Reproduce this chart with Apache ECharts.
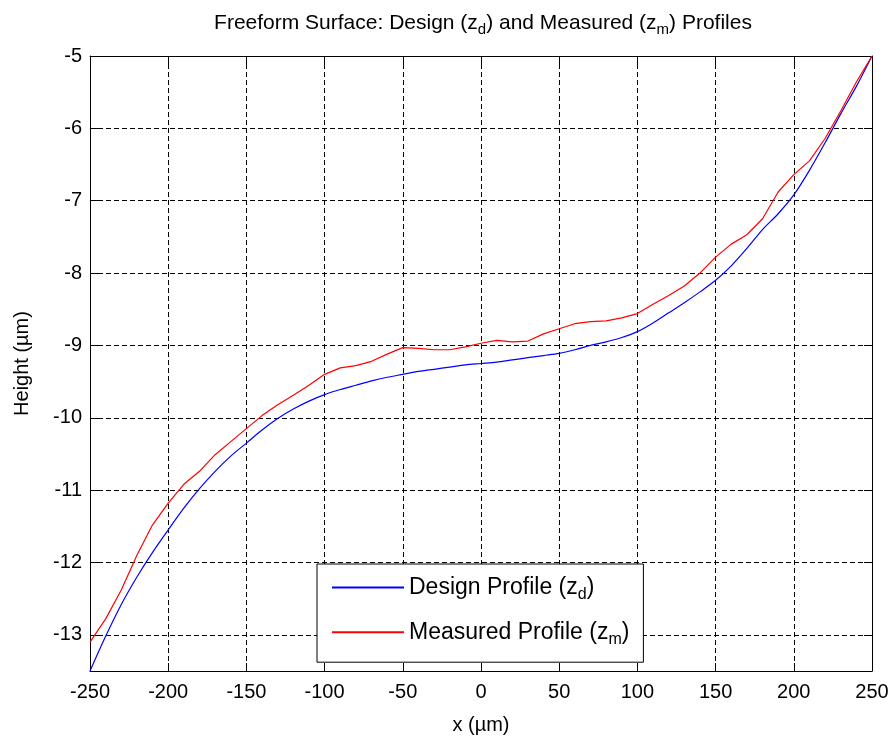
<!DOCTYPE html>
<html>
<head>
<meta charset="utf-8">
<title>Freeform Surface Profiles</title>
<script src="https://cdn.jsdelivr.net/npm/echarts@6/dist/echarts.min.js"></script>
<style>
  html, body { margin: 0; padding: 0; background: #fff; }
  #chart { width: 893px; height: 742px; }
</style>
</head>
<body>
<div id="chart"></div>
<script>
// x positions (um)
var xValues = [-250, -240, -230, -220, -210, -200, -190, -180, -170, -160,
               -150, -140, -130, -120, -110, -100, -90, -80, -70, -60,
               -50, -40, -30, -20, -10, 0, 10, 20, 30, 40,
               50, 60, 70, 80, 90, 100, 110, 120, 130, 140,
               150, 160, 170, 180, 190, 200, 210, 220, 230, 240, 250];

// design profile z_d
var designValues = [-13.50, -13.02, -12.58, -12.20, -11.86, -11.55, -11.25, -10.98, -10.74, -10.53,
                    -10.35, -10.17, -10.01, -9.88, -9.77, -9.68, -9.61, -9.55, -9.49, -9.44,
                    -9.40, -9.36, -9.33, -9.30, -9.27, -9.25, -9.23, -9.20, -9.17, -9.14,
                    -9.11, -9.06, -9.00, -8.95, -8.89, -8.81, -8.69, -8.55, -8.41, -8.26,
                    -8.10, -7.90, -7.66, -7.40, -7.18, -6.92, -6.58, -6.20, -5.80, -5.42, -5.00];

// measured profile z_m
var measuredValues = [-13.10, -12.78, -12.38, -11.90, -11.48, -11.18, -10.92, -10.74, -10.51, -10.33,
                      -10.15, -9.97, -9.82, -9.69, -9.55, -9.40, -9.31, -9.28, -9.22, -9.12,
                      -9.03, -9.04, -9.06, -9.06, -9.02, -8.97, -8.93, -8.95, -8.94, -8.84,
                      -8.77, -8.70, -8.67, -8.66, -8.62, -8.56, -8.43, -8.31, -8.18, -8.00,
                      -7.78, -7.60, -7.47, -7.25, -6.88, -6.64, -6.45, -6.14, -5.76, -5.36, -5.00];

var yTicks = [-13, -12, -11, -10, -9, -8, -7, -6, -5];

var seriesNames = ['Design Profile (zd)', 'Measured Profile (zm)'];
var seriesSubs = ['d', 'm'];

function pairs(xs, ys) {
    var out = [];
    for (var i = 0; i < xs.length; i++) out.push([xs[i], ys[i]]);
    return out;
}

var font = 'Liberation Sans, Arial, sans-serif';
var dashed = { show: true, lineStyle: { color: '#000', type: [5, 3], width: 1 } };

var chart = echarts.init(document.getElementById('chart'));
var option = {
    backgroundColor: '#fff',
    animation: false,
    title: {
        text: '{t|Freeform Surface: Design (z}{s|d}{t|) and Measured (z}{s|m}{t|) Profiles}',
        left: 478,
        textAlign: 'center',
        top: 4,
        textStyle: {
            fontWeight: 'normal',
            rich: {
                t: { fontSize: 21, fontFamily: font, color: '#000', fontWeight: 'normal' },
                s: { fontSize: 15, fontFamily: font, color: '#000', fontWeight: 'normal', padding: [13, 0, 0, 0] }
            }
        }
    },
    legend: {
        orient: 'vertical',
        left: 317,
        top: 564,
        padding: [12, 14, 15, 14],
        itemWidth: 72,
        itemHeight: 29,
        itemGap: 18,
        backgroundColor: '#fff',
        borderColor: '#000',
        borderWidth: 1,
        itemStyle: { opacity: 0 },
        data: seriesNames,
        formatter: function (name) {
            var i = seriesNames.indexOf(name);
            var base = name.slice(0, name.length - 2);
            return '{n|' + base + '}{s|' + seriesSubs[i] + '}{n|)}';
        },
        textStyle: {
            rich: {
                n: { fontSize: 23, fontFamily: font, color: '#000' },
                s: { fontSize: 16, fontFamily: font, color: '#000', padding: [14, 0, 0, 0] }
            }
        }
    },
    grid: { left: 90, right: 21, top: 56, bottom: 71, containLabel: false },
    xAxis: [
        {
            type: 'value',
            min: -250, max: 250, interval: 50,
            name: 'x (\u00b5m)',
            nameLocation: 'middle',
            nameGap: 44,
            nameTextStyle: { fontSize: 20, fontFamily: font, color: '#000' },
            axisLine: { show: true, onZero: false, lineStyle: { color: '#000', width: 1 } },
            axisTick: { show: true, inside: true, length: 8, lineStyle: { color: '#000' } },
            axisLabel: { fontSize: 20, fontFamily: font, color: '#000', margin: 11 },
            splitLine: dashed
        },
        {
            type: 'value', position: 'top',
            min: -250, max: 250, interval: 50,
            axisLine: { show: true, onZero: false, lineStyle: { color: '#000', width: 1 } },
            axisTick: { show: true, inside: true, length: 8, lineStyle: { color: '#000' } },
            axisLabel: { show: false },
            splitLine: { show: false }
        }
    ],
    yAxis: [
        {
            type: 'value',
            min: -13.5, max: -5,
            name: 'Height (\u00b5m)',
            nameLocation: 'middle',
            nameGap: 58,
            nameTextStyle: { fontSize: 20, fontFamily: font, color: '#000' },
            axisLine: { show: true, onZero: false, lineStyle: { color: '#000', width: 1 } },
            axisTick: { show: true, inside: true, length: 8, customValues: yTicks, lineStyle: { color: '#000' } },
            axisLabel: { fontSize: 20, fontFamily: font, color: '#000', margin: 8, customValues: yTicks },
            splitLine: dashed
        },
        {
            type: 'value', position: 'right',
            min: -13.5, max: -5,
            axisLine: { show: true, onZero: false, lineStyle: { color: '#000', width: 1 } },
            axisTick: { show: true, inside: true, length: 8, customValues: yTicks, lineStyle: { color: '#000' } },
            axisLabel: { show: false },
            splitLine: { show: false }
        }
    ],
    series: [
        {
            name: seriesNames[0],
            type: 'line',
            xAxisIndex: 0, yAxisIndex: 0,
            symbol: 'none',
            smooth: 0.3,
            lineStyle: { color: '#0000ff', width: 1.2 },
            itemStyle: { color: '#0000ff' },
            data: pairs(xValues, designValues)
        },
        {
            name: seriesNames[1],
            type: 'line',
            xAxisIndex: 0, yAxisIndex: 0,
            symbol: 'none',
            lineStyle: { color: '#ff0000', width: 1.2 },
            itemStyle: { color: '#ff0000' },
            data: pairs(xValues, measuredValues)
        }
    ]
};
chart.setOption(option);
</script>
</body>
</html>
